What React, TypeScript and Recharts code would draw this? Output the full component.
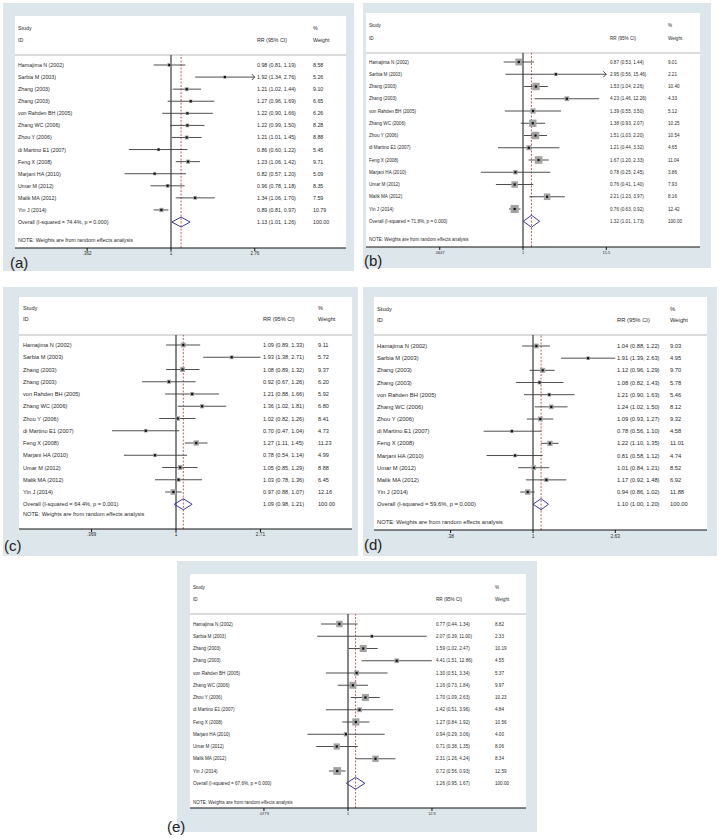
import React from 'react';
import { ComposedChart, Scatter, XAxis, YAxis, ReferenceLine, ErrorBar } from 'recharts';

const FONT = '"Liberation Sans", Arial, Helvetica, sans-serif';

const STUDIES = [
  'Hamajima N (2002)', 'Sarbia M (2003)', 'Zhang  (2003)', 'Zhang  (2003)', 'von Rahden BH (2005)',
  'Zhang WC (2006)', 'Zhou Y (2006)', 'di Martino E1 (2007)', 'Feng X  (2008)', 'Marjani HA (2010)',
  'Umar M (2012)', 'Malik MA (2012)', 'Yin J (2014)',
];

// Panel (a)
const A_RR = [0.98, 1.92, 1.21, 1.27, 1.22, 1.22, 1.21, 0.86, 1.23, 0.82, 0.96, 1.34, 0.89];
const A_LO = [0.81, 1.34, 1.02, 0.96, 0.90, 0.99, 1.01, 0.60, 1.06, 0.57, 0.78, 1.06, 0.81];
const A_HI = [1.19, 2.76, 1.44, 1.69, 1.66, 1.50, 1.45, 1.22, 1.42, 1.20, 1.18, 1.70, 0.97];
const A_WT = [8.58, 5.26, 9.10, 6.65, 6.26, 8.28, 8.88, 5.45, 9.71, 5.09, 8.35, 7.59, 10.79];
const A_OVERALL = [1.13, 1.01, 1.26];
const A_STATS = ['74.4%', '0.000'];
const A_TICKS = [0.362, 1, 2.76];
const A_TICK_LABELS = ['.362', '1', '2.76'];
const A_ARROWS = [1];

// Panel (b)
const B_RR = [0.87, 2.95, 1.53, 4.23, 1.39, 1.38, 1.51, 1.21, 1.67, 0.78, 0.76, 2.21, 0.76];
const B_LO = [0.53, 0.56, 1.04, 1.46, 0.55, 0.93, 1.03, 0.44, 1.20, 0.25, 0.41, 1.23, 0.63];
const B_HI = [1.44, 15.46, 2.26, 12.26, 3.50, 2.07, 2.20, 3.32, 2.33, 2.45, 1.40, 3.97, 0.92];
const B_WT = [9.01, 2.21, 10.40, 4.33, 5.12, 10.25, 10.54, 4.65, 11.04, 3.86, 7.93, 8.16, 12.42];
const B_OVERALL = [1.32, 1.01, 1.73];
const B_STATS = ['71.8%', '0.000'];
const B_TICKS = [0.0647, 1, 15.5];
const B_TICK_LABELS = ['.0647', '1', '15.5'];
const B_ARROWS = [1];

// Panel (c)
const C_RR = [1.09, 1.93, 1.08, 0.92, 1.21, 1.36, 1.02, 0.70, 1.27, 0.78, 1.05, 1.03, 0.97];
const C_LO = [0.89, 1.38, 0.89, 0.67, 0.88, 1.02, 0.82, 0.47, 1.11, 0.54, 0.85, 0.78, 0.88];
const C_HI = [1.33, 2.71, 1.32, 1.26, 1.66, 1.81, 1.26, 1.04, 1.45, 1.14, 1.29, 1.36, 1.07];
const C_WT = [9.11, 5.72, 9.37, 6.20, 5.92, 6.80, 8.41, 4.73, 11.23, 4.99, 8.88, 6.45, 12.16];
const C_OVERALL = [1.09, 0.98, 1.21];
const C_STATS = ['64.4%', '0.001'];
const C_TICKS = [0.369, 1, 2.71];
const C_TICK_LABELS = ['.369', '1', '2.71'];
const C_ARROWS: number[] = [];

// Panel (d)
const D_RR = [1.04, 1.91, 1.12, 1.08, 1.21, 1.24, 1.09, 0.78, 1.22, 0.81, 1.01, 1.17, 0.94];
const D_LO = [0.88, 1.39, 0.96, 0.82, 0.90, 1.02, 0.93, 0.56, 1.10, 0.58, 0.84, 0.92, 0.86];
const D_HI = [1.22, 2.63, 1.29, 1.43, 1.63, 1.50, 1.27, 1.10, 1.35, 1.12, 1.21, 1.48, 1.02];
const D_WT = [9.03, 4.95, 9.70, 5.78, 5.46, 8.12, 9.32, 4.58, 11.01, 4.74, 8.52, 6.92, 11.88];
const D_OVERALL = [1.10, 1.00, 1.20];
const D_STATS = ['59.6%', '0.000'];
const D_TICKS = [0.38, 1, 2.63];
const D_TICK_LABELS = ['.38', '1', '2.63'];
const D_ARROWS: number[] = [];

// Panel (e)
const E_RR = [0.77, 2.07, 1.59, 4.41, 1.30, 1.16, 1.70, 1.42, 1.27, 0.94, 0.71, 2.31, 0.72];
const E_LO = [0.44, 0.39, 1.02, 1.51, 0.51, 0.73, 1.09, 0.51, 0.84, 0.29, 0.38, 1.26, 0.56];
const E_HI = [1.34, 11.00, 2.47, 12.86, 3.34, 1.84, 2.63, 3.96, 1.92, 3.06, 1.35, 4.24, 0.93];
const E_WT = [8.82, 2.33, 10.19, 4.55, 5.37, 9.97, 10.23, 4.84, 10.56, 4.00, 8.06, 8.34, 12.59];
const E_OVERALL = [1.26, 0.95, 1.67];
const E_STATS = ['67.6%', '0.000'];
const E_TICKS = [0.0773, 1, 12.9];
const E_TICK_LABELS = ['.0773', '1', '12.9'];
const E_ARROWS: number[] = [];

type PanelData = {
  rr: number[]; lo: number[]; hi: number[]; wt: number[];
  overall: number[]; stats: string[]; ticks: number[]; tickLabels: string[]; arrows: number[];
};

type Geo = {
  label: string; ox: number; oy: number; ow: number; oh: number;
  wx0: number; wx1: number; wy0: number; axisY: number; sepY: number;
  row0: number; step: number; nullX: number; ppd: number;
  studyX: number; ciX: number; wX: number; studyHY: number; idY: number; noteY: number;
  fs: number; dh: number; labelX: number; labelY: number; box: number;
};

const PANELS: { d: PanelData; g: Geo }[] = [
  {
    d: { rr: A_RR, lo: A_LO, hi: A_HI, wt: A_WT, overall: A_OVERALL, stats: A_STATS, ticks: A_TICKS, tickLabels: A_TICK_LABELS, arrows: A_ARROWS },
    g: { label: '(a)', ox: 3, oy: 3, ow: 351, oh: 268, wx0: 15, wx1: 346, wy0: 16, axisY: 248, sepY: 55, row0: 65, step: 12.08, nullX: 171, ppd: 190, studyX: 18, ciX: 257, wX: 313, studyHY: 28, idY: 40, noteY: 240, fs: 5.3, dh: 5, labelX: 10, labelY: 268, box: 1.3 },
  },
  {
    d: { rr: B_RR, lo: B_LO, hi: B_HI, wt: B_WT, overall: B_OVERALL, stats: B_STATS, ticks: B_TICKS, tickLabels: B_TICK_LABELS, arrows: B_ARROWS },
    g: { label: '(b)', ox: 363, oy: 3, ow: 348, oh: 265, wx0: 366, wx1: 700, wy0: 13, axisY: 247, sepY: 53, row0: 62, step: 12.25, nullX: 523, ppd: 70, studyX: 369, ciX: 610, wX: 668, studyHY: 25, idY: 38, noteY: 239, fs: 4.6, dh: 6, labelX: 364, labelY: 266, box: 2.3 },
  },
  {
    d: { rr: C_RR, lo: C_LO, hi: C_HI, wt: C_WT, overall: C_OVERALL, stats: C_STATS, ticks: C_TICKS, tickLabels: C_TICK_LABELS, arrows: C_ARROWS },
    g: { label: '(c)', ox: 3, oy: 287, ow: 355, oh: 269, wx0: 19, wx1: 352, wy0: 297, axisY: 529, sepY: 335, row0: 345, step: 12.25, nullX: 176, ppd: 195, studyX: 23, ciX: 263, wX: 318, studyHY: 308, idY: 319, noteY: 514, fs: 5.6, dh: 5.5, labelX: 4, labelY: 551, box: 1.6 },
  },
  {
    d: { rr: D_RR, lo: D_LO, hi: D_HI, wt: D_WT, overall: D_OVERALL, stats: D_STATS, ticks: D_TICKS, tickLabels: D_TICK_LABELS, arrows: D_ARROWS },
    g: { label: '(d)', ox: 363, oy: 287, ow: 354, oh: 269, wx0: 374, wx1: 707, wy0: 297, axisY: 530, sepY: 335, row0: 346, step: 12.17, nullX: 533, ppd: 196, studyX: 377, ciX: 617, wX: 670, studyHY: 309, idY: 320, noteY: 522, fs: 5.8, dh: 5.5, labelX: 364, labelY: 550, box: 1.6 },
  },
  {
    d: { rr: E_RR, lo: E_LO, hi: E_HI, wt: E_WT, overall: E_OVERALL, stats: E_STATS, ticks: E_TICKS, tickLabels: E_TICK_LABELS, arrows: E_ARROWS },
    g: { label: '(e)', ox: 177, oy: 561, ow: 360, oh: 271, wx0: 190, wx1: 526, wy0: 574, axisY: 808, sepY: 614, row0: 624, step: 12.25, nullX: 348, ppd: 75.6, studyX: 193, ciX: 436, wX: 495, studyHY: 587, idY: 599, noteY: 802, fs: 4.6, dh: 6, labelX: 167, labelY: 832, box: 2.2 },
  },
];

const TEXT = '#2a2a2a';
const BG = '#dde6ea';

function fmtCI(rr: number, lo: number, hi: number) {
  return `${rr.toFixed(2)} (${lo.toFixed(2)}, ${hi.toFixed(2)})`;
}

function ForestChart({ d, g }: { d: PanelData; g: Geo }) {
  const n = STUDIES.length;
  const chartW = g.wx1 - g.wx0;
  const axisH = 16;
  const chartH = g.axisY - g.sepY + axisH;
  const yTop = (g.sepY - g.row0) / g.step;
  const yBot = (g.axisY - g.row0) / g.step;
  const xLo = Math.pow(10, (g.wx0 - g.nullX) / g.ppd);
  const xHi = Math.pow(10, (g.wx1 - g.nullX) / g.ppd);
  const pts = d.rr.map((rr, i) => ({ x: rr, y: i, w: d.wt[i], err: [rr - d.lo[i], d.hi[i] - rr] }));
  const arrows = d.arrows.map((i) => ({ x: d.hi[i], y: i }));
  const [orr, olo, ohi] = d.overall;
  const dh = g.dh / g.step;
  const diamond = [
    { x: olo, y: n }, { x: orr, y: n - dh }, { x: ohi, y: n }, { x: orr, y: n + dh }, { x: olo, y: n },
  ];
  const rowTicks = Array.from({ length: n + 1 }, (_, i) => i);

  const RowTick = (props: any) => {
    const { y, payload } = props;
    const i = payload.value as number;
    const isOverall = i === n;
    const name = isOverall ? `Overall  (I-squared = ${d.stats[0]}, p = ${d.stats[1]})` : STUDIES[i];
    const ci = isOverall ? fmtCI(orr, olo, ohi) : fmtCI(d.rr[i], d.lo[i], d.hi[i]);
    const wt = isOverall ? '100.00' : d.wt[i].toFixed(2);
    const common = { y, dominantBaseline: 'central' as const, fontSize: g.fs, fontFamily: FONT, fill: TEXT };
    return (
      <g>
        <text x={g.studyX - g.wx0} {...common}>{name}</text>
        <text x={g.ciX - g.wx0} {...common}>{ci}</text>
        <text x={g.wX - g.wx0} {...common}>{wt}</text>
      </g>
    );
  };

  const BoxShape = (p: any) => {
    const s = g.box * Math.sqrt(p.payload.w);
    return <rect x={p.cx - s / 2} y={p.cy - s / 2} width={s} height={s} fill="#a3a3a3" />;
  };
  const DotShape = (p: any) => <rect x={p.cx - 1.1} y={p.cy - 1.1} width={2.2} height={2.2} fill="#111" />;
  const ArrowShape = (p: any) => (
    <path d={`M${p.cx - 3},${p.cy - 3} L${p.cx},${p.cy} L${p.cx - 3},${p.cy + 3}`} fill="none" stroke="#333" strokeWidth={0.9} />
  );
  const NoShape = () => <g />;

  const tickLabel = (v: number) => {
    let best = 0;
    d.ticks.forEach((t, k) => { if (Math.abs(t - v) < Math.abs(d.ticks[best] - v)) best = k; });
    return d.tickLabels[best];
  };

  return (
    <div style={{ position: 'absolute', left: g.wx0, top: g.sepY, width: chartW, height: chartH }}>
      <ComposedChart width={chartW} height={chartH} margin={{ top: 0, right: 0, bottom: 0, left: 0 }}>
        <XAxis
          type="number"
          dataKey="x"
          scale="log"
          domain={[xLo, xHi]}
          allowDataOverflow
          ticks={d.ticks}
          interval={0}
          tickFormatter={tickLabel}
          height={axisH}
          tickSize={3}
          tickMargin={1}
          axisLine={{ stroke: '#111', strokeWidth: 1 }}
          tickLine={{ stroke: '#111', strokeWidth: 1 }}
          tick={{ fontSize: g.fs * 0.85, fontFamily: FONT, fill: TEXT }}
        />
        <YAxis
          type="number"
          dataKey="y"
          domain={[yTop, yBot]}
          allowDataOverflow
          reversed
          mirror
          ticks={rowTicks}
          interval={0}
          axisLine={false}
          tickLine={false}
          tick={RowTick}
        />
        <ReferenceLine x={1} stroke="#111" strokeWidth={1} />
        <ReferenceLine x={orr} stroke="#b03a3a" strokeWidth={0.8} strokeDasharray="2 1.5" />
        <Scatter data={pts} shape={BoxShape} isAnimationActive={false} />
        <Scatter data={pts} shape={DotShape} isAnimationActive={false}>
          <ErrorBar dataKey="err" direction="x" width={0} stroke="#3a3a3a" strokeWidth={0.9} isAnimationActive={false} />
        </Scatter>
        <Scatter data={arrows} shape={ArrowShape} isAnimationActive={false} />
        <Scatter
          data={diamond}
          shape={NoShape}
          line={{ stroke: '#3c3c94', strokeWidth: 1 }}
          lineType="joint"
          isAnimationActive={false}
        />
      </ComposedChart>
    </div>
  );
}

function Background() {
  return (
    <svg width={720} height={838} style={{ position: 'absolute', left: 0, top: 0 }}>
      <rect x={0} y={0} width={720} height={838} fill="#ffffff" />
      {PANELS.map(({ g }) => (
        <g key={g.label}>
          <rect x={g.ox} y={g.oy} width={g.ow} height={g.oh} fill={BG} />
          <rect x={g.wx0} y={g.wy0} width={g.wx1 - g.wx0} height={g.axisY - g.wy0} fill="#ffffff" />
          <line x1={g.wx0} x2={g.wx1} y1={g.sepY} y2={g.sepY} stroke="#cfcfcf" strokeWidth={1.5} />
          <text x={g.studyX} y={g.studyHY} dominantBaseline="central" fontSize={g.fs} fontFamily={FONT} fill={TEXT}>Study</text>
          <text x={g.studyX} y={g.idY} dominantBaseline="central" fontSize={g.fs} fontFamily={FONT} fill={TEXT}>ID</text>
          <text x={g.ciX} y={g.idY} dominantBaseline="central" fontSize={g.fs} fontFamily={FONT} fill={TEXT}>RR (95% CI)</text>
          <text x={g.wX} y={g.studyHY} dominantBaseline="central" fontSize={g.fs} fontFamily={FONT} fill={TEXT}>%</text>
          <text x={g.wX} y={g.idY} dominantBaseline="central" fontSize={g.fs} fontFamily={FONT} fill={TEXT}>Weight</text>
          <text x={g.studyX} y={g.noteY} dominantBaseline="central" fontSize={g.fs} fontFamily={FONT} fill={TEXT}>NOTE: Weights are from random effects analysis</text>
          <text x={g.labelX} y={g.labelY} fontSize={15} fontFamily={FONT} fill="#222">{g.label}</text>
        </g>
      ))}
    </svg>
  );
}

export default function App() {
  return (
    <div style={{ position: 'absolute', left: 0, top: 0, width: 720, height: 838, overflow: 'hidden', background: '#fff' }}>
      <Background />
      {PANELS.map(({ d, g }) => (
        <ForestChart key={g.label} d={d} g={g} />
      ))}
    </div>
  );
}
